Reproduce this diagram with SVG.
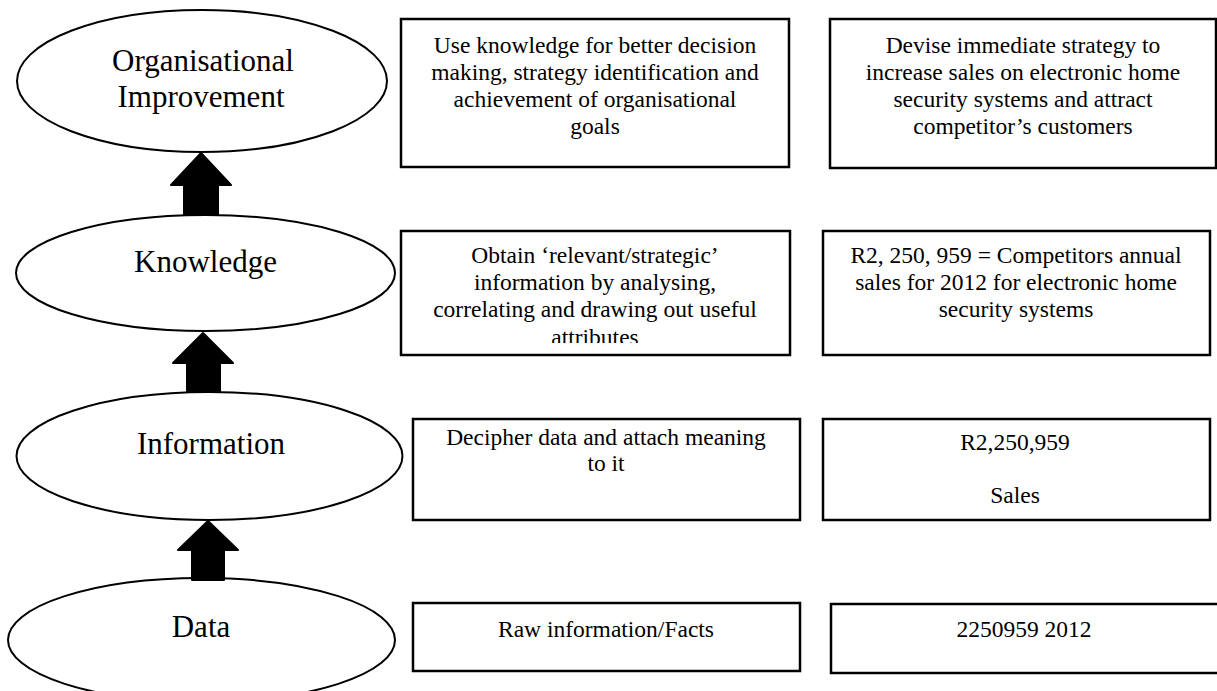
<svg xmlns="http://www.w3.org/2000/svg" width="1217" height="691" viewBox="0 0 1217 691">
  <style>
    .level { fill: #ffffff; stroke: #000000; stroke-width: 2; }
    .box { fill: #ffffff; stroke: #000000; stroke-width: 2.5; }
    .arrow { fill: #000000; stroke: #000000; stroke-width: 2; stroke-linejoin: round; }
    text { fill: #000000; text-anchor: middle; }
    .lvl { font-size: 31px; }
    .txt { font-size: 23.5px; }
  </style>
  <defs>
    <clipPath id="clip-knowledge-desc">
      <rect x="402" y="232" width="386" height="111"/>
    </clipPath>
  </defs>

  <rect width="1217" height="691" fill="#ffffff"/>

  <g font-family="Liberation Serif, DejaVu Serif, serif">
  <!-- hierarchy levels -->
  <g id="level-organisational-improvement">
    <ellipse class="level" cx="202" cy="81" rx="185" ry="71"/>
    <text class="lvl" x="203" y="71">Organisational</text>
    <text class="lvl" x="201" y="107">Improvement</text>
  </g>
  <g id="level-knowledge">
    <ellipse class="level" cx="205.5" cy="273" rx="189.5" ry="58"/>
    <text class="lvl" x="205.5" y="272">Knowledge</text>
  </g>
  <g id="level-information">
    <ellipse class="level" cx="209.5" cy="456" rx="193" ry="64"/>
    <text class="lvl" x="211" y="454">Information</text>
  </g>
  <g id="level-data">
    <ellipse class="level" cx="201.5" cy="640" rx="193.5" ry="62"/>
    <text class="lvl" x="201" y="637">Data</text>
  </g>

  <!-- upward block arrows between levels -->
  <g id="connectors">
    <path class="arrow" d="M201,153 L231,185 L218,185 L218,215 L184,215 L184,185 L171,185 Z"/>
    <path class="arrow" d="M203,333 L233,363 L220,363 L220,392 L187,392 L187,363 L173,363 Z"/>
    <path class="arrow" d="M208,521 L238,550 L224,550 L224,580 L192,580 L192,550 L178,550 Z"/>
  </g>

  <!-- descriptions -->
  <g id="desc-organisational-improvement">
    <rect class="box" x="401" y="19" width="388" height="148"/>
    <text class="txt" x="595" y="53">Use knowledge for better decision</text>
    <text class="txt" x="595" y="80">making, strategy identification and</text>
    <text class="txt" x="595" y="107">achievement of organisational</text>
    <text class="txt" x="595" y="134">goals</text>
  </g>
  <g id="example-organisational-improvement">
    <rect class="box" x="830" y="19" width="386" height="149"/>
    <text class="txt" x="1023" y="53">Devise immediate strategy to</text>
    <text class="txt" x="1023" y="80">increase sales on electronic home</text>
    <text class="txt" x="1023" y="107">security systems and attract</text>
    <text class="txt" x="1023" y="134">competitor’s customers</text>
  </g>

  <g id="desc-knowledge">
    <rect class="box" x="401" y="231" width="389" height="124"/>
    <g clip-path="url(#clip-knowledge-desc)">
      <text class="txt" x="595" y="263">Obtain ‘relevant/strategic’</text>
      <text class="txt" x="595" y="290">information by analysing,</text>
      <text class="txt" x="595" y="317">correlating and drawing out useful</text>
      <text class="txt" x="595" y="345">attributes</text>
    </g>
  </g>
  <g id="example-knowledge">
    <rect class="box" x="823" y="231" width="387" height="124"/>
    <text class="txt" x="1016" y="263">R2, 250, 959 = Competitors annual</text>
    <text class="txt" x="1016" y="290">sales for 2012 for electronic home</text>
    <text class="txt" x="1016" y="317">security systems</text>
  </g>

  <g id="desc-information">
    <rect class="box" x="413" y="419" width="387" height="101"/>
    <text class="txt" x="606" y="445">Decipher data and attach meaning</text>
    <text class="txt" x="606" y="471">to it</text>
  </g>
  <g id="example-information">
    <rect class="box" x="823" y="419" width="387" height="101"/>
    <text class="txt" x="1015" y="450">R2,250,959</text>
    <text class="txt" x="1015" y="503">Sales</text>
  </g>

  <g id="desc-data">
    <rect class="box" x="413" y="603" width="387" height="68"/>
    <text class="txt" x="606" y="637">Raw information/Facts</text>
  </g>
  <g id="example-data">
    <rect class="box" x="831" y="604" width="390" height="69"/>
    <text class="txt" x="1024" y="637">2250959 2012</text>
  </g>
  </g>
</svg>
